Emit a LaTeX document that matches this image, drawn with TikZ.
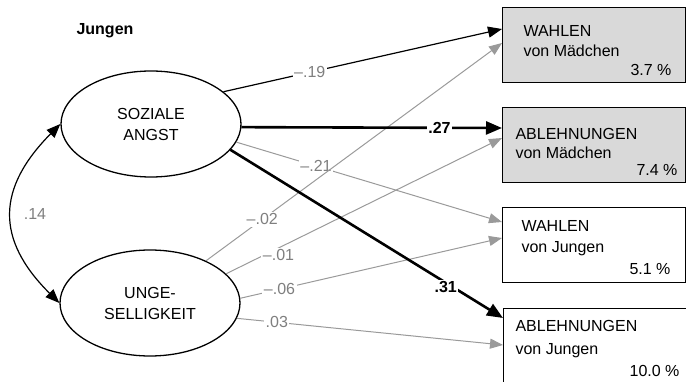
\documentclass[tikz,border=0pt]{standalone}
\usepackage{fontspec}
\setmainfont{Liberation Sans}
\usetikzlibrary{arrows.meta,shapes.geometric,calc}
\definecolor{boxgray}{HTML}{D9D9D9}
\definecolor{linegray}{HTML}{9A9A9A}
\definecolor{labelgray}{HTML}{7F7F7F}
\begin{document}
\begin{tikzpicture}[x=1pt,y=-1pt,
  every node/.style={font=\fontsize{16}{21}\selectfont},
  factor/.style={draw,ellipse,line width=1.3pt,minimum width=180pt,minimum height=106pt,inner sep=0pt,align=center},
  outbox/.style={draw,line width=1.3pt,anchor=north west,inner sep=0pt,minimum width=183pt,minimum height=75pt},
  lbl/.style={fill=white,inner sep=1.5pt},
  glbl/.style={lbl,text=labelgray},
  blbl/.style={lbl,font=\fontsize{16}{21}\selectfont\bfseries},
  strong/.style={line width=2.6pt,-{Triangle[length=16pt,width=13pt]}},
  plain/.style={line width=1.2pt,-{Triangle[length=14pt,width=11pt]}},
  weak/.style={draw=linegray,line width=1pt,-{Triangle[length=13pt,width=10pt,color=linegray,fill=linegray]}},
]
\useasboundingbox (0,0) rectangle (686,382);
\clip (0,0) rectangle (686,382);

% title
\node[anchor=base west,font=\fontsize{16}{21}\selectfont\bfseries] (title) at (73,35) {Jungen};

% latent factors
\node[factor] (soz) at (151,124) {SOZIALE\\ANGST};
\node[factor] (ung) at (150,303) {UNGE-\\SELLIGKEIT};

% outcome boxes
\node[outbox,fill=boxgray] (b1) at (502,7) {};
\node[outbox,fill=boxgray] (b2) at (502,107) {};
\node[outbox] (b3) at (502,207) {};
\node[outbox,minimum height=100pt] (b4) at (503,308) {};

\node[anchor=base west] (b1a) at (520,37) {WAHLEN};
\node[anchor=base west] (b1b) at (520,57) {von Mädchen};
\node[anchor=base east] (b1c) at (675,76) {3.7 \%};

\node[anchor=base west] (b2a) at (512,140) {ABLEHNUNGEN};
\node[anchor=base west] (b2b) at (512,159) {von Mädchen};
\node[anchor=base east] (b2c) at (681,176) {7.4 \%};

\node[anchor=base west] (b3a) at (518,232) {WAHLEN};
\node[anchor=base west] (b3b) at (518,253) {von Jungen};
\node[anchor=base east] (b3c) at (674,275) {5.1 \%};

\node[anchor=base west] (b4a) at (512,332) {ABLEHNUNGEN};
\node[anchor=base west] (b4b) at (512,354) {von Jungen};
\node[anchor=base east] (b4c) at (683,376) {10.0 \%};

% arrival points on the boxes
\coordinate (t1s) at ($(b1.north west)+(0,22)$);
\coordinate (t1u) at ($(b1.north west)+(0,36)$);
\coordinate (t2s) at ($(b2.north west)+(0,21)$);
\coordinate (t2u) at ($(b2.north west)+(0,31)$);
\coordinate (t3s) at ($(b3.north west)+(0,15)$);
\coordinate (t3u) at ($(b3.north west)+(0,31)$);
\coordinate (t4s) at ($(b4.north west)+(0,10)$);
\coordinate (t4u) at ($(b4.north west)+(0,37)$);

% weak paths (grey)
\draw[weak] (soz.-12) -- node[glbl,pos=0.30]{–.21} (t3s);
\draw[weak] (ung.37) -- node[glbl,pos=0.19]{–.02} (t1u);
\draw[weak] (ung.21) -- node[glbl,pos=0.19,yshift=-7pt]{–.01} (t2u);
\draw[weak] (ung.3) -- node[glbl,pos=0.15]{–.06} (t3u);
\draw[weak] (ung.-10) -- node[glbl,pos=0.15]{.03} (t4u);

% black paths
\draw[plain] (soz.24) -- node[glbl,pos=0.31]{–.19} (t1s);
\draw[strong] (soz.-2) -- node[blbl,pos=0.76]{.27} (t2s);
\draw[strong] (soz.-18) -- node[blbl,pos=0.79,yshift=-4pt]{.31} (t4s);

% correlation between the factors
\draw[line width=1.2pt,{Triangle[length=14pt,width=11pt]}-{Triangle[length=14pt,width=11pt]}]
  (soz.west) .. controls (-3,188) and (-5,239) .. node[pos=0.5,right=8pt,text=labelgray]{.14} (ung.west);
\end{tikzpicture}
\end{document}
